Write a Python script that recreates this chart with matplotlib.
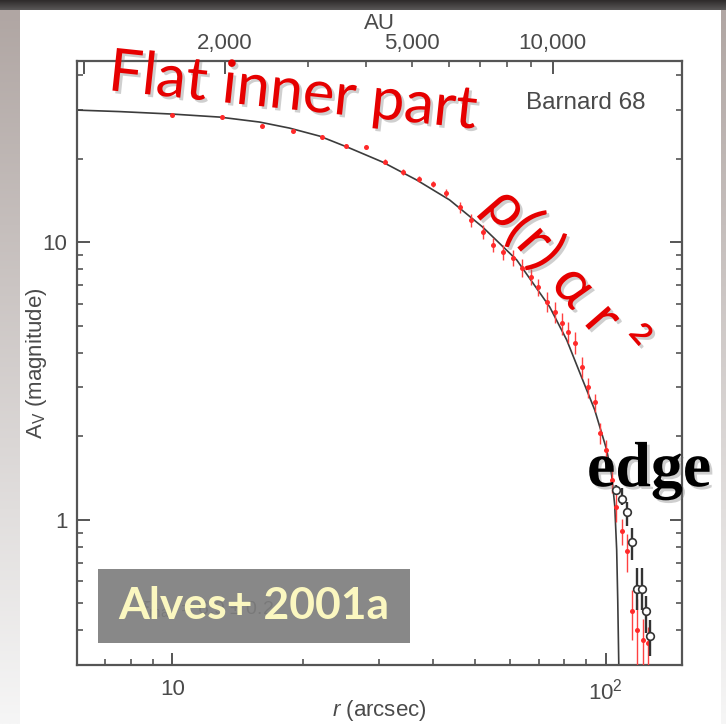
import numpy as np
from matplotlib import pyplot as plt
from matplotlib.ticker import FixedLocator, FixedFormatter, NullFormatter
import matplotlib.patheffects as pe
from matplotlib.patches import Rectangle

plt.rcParams["font.family"] = ["Liberation Sans", "DejaVu Sans"]
plt.rcParams["mathtext.fontset"] = "custom"
plt.rcParams["mathtext.rm"] = "Liberation Sans"
plt.rcParams["mathtext.it"] = "Liberation Sans:italic"
plt.rcParams["mathtext.bf"] = "Liberation Sans:bold"

# model profile (r in arcsec, A_V in mag)
model_r = [6.0, 7.54, 10.0, 12.84, 15.88, 18.63, 21.85, 25.63, 30.55, 36.61,
           43.62, 51.99, 62.31, 74.25, 81.27, 88.49, 94.32, 100.5, 103.2,
           104.9, 106.0, 106.6, 107.2, 107.3]
model_av = [29.95, 29.58, 28.97, 28.26, 27.12, 25.79, 24.14, 21.86, 19.46,
            16.77, 14.21, 11.35, 8.64, 5.85, 4.45, 3.19, 2.49, 1.79, 1.45,
            1.13, 0.78, 0.515, 0.30, 0.25]

# near-infrared extinction measurements (red)
red_r = [10.0, 13.0, 16.05, 19.0, 22.1, 25.1, 28.0, 30.9, 34.0, 37.0, 39.9,
         42.9, 46.0, 49.0, 52.0, 54.8, 57.8, 61.0, 64.0, 67.1, 69.7, 73.1,
         76.2, 79.1, 81.7, 84.8, 88.0, 90.9, 94.3, 96.8, 100.0, 103.2, 105.5,
         108.9, 111.8, 114.8, 117.9, 121.7, 125.5]
red_av = [28.7, 28.3, 26.2, 25.2, 23.9, 22.2, 22.0, 19.5, 17.9, 16.9, 16.2,
          15.1, 13.4, 12.0, 10.9, 9.8, 9.2, 8.8, 8.1, 7.5, 6.9, 6.1,
          5.6, 5.1, 4.75, 4.35, 3.55, 3.0, 2.65, 2.06, 1.79, 1.39, 1.11,
          0.91, 0.77, 0.47, 0.40, 0.37, 0.36]
red_err_lo = [0.4, 0.4, 0.4, 0.4, 0.4, 0.4, 0.4, 0.4, 0.4, 0.4, 0.4,
              0.5, 0.6, 0.6, 0.6, 0.6, 0.6, 0.6, 0.6, 0.5, 0.5, 0.5,
              0.5, 0.45, 0.4, 0.4, 0.3, 0.25, 0.2, 0.18, 0.15, 0.14, 0.13,
              0.1, 0.12, 0.1, 0.3, 0.3, 0.3]
red_err_hi = [0.4, 0.4, 0.4, 0.4, 0.4, 0.4, 0.4, 0.4, 0.4, 0.4, 0.4,
              0.5, 0.6, 0.6, 0.6, 0.6, 0.6, 0.6, 0.6, 0.5, 0.5, 0.5,
              0.5, 0.45, 0.4, 0.4, 0.3, 0.25, 0.2, 0.18, 0.15, 0.14, 0.13,
              0.1, 0.12, 0.09, 0.12, 0.07, 0.05]

# outer points (open circles)
open_r = [105.5, 108.9, 111.8, 114.8, 117.9, 121.0, 124.2, 126.6]
open_av = [1.28, 1.19, 1.07, 0.833, 0.564, 0.564, 0.47, 0.382]
open_err_lo = [0.05, 0.06, 0.12, 0.115, 0.09, 0.09, 0.08, 0.06]
open_err_hi = [0.05, 0.11, 0.09, 0.10, 0.106, 0.106, 0.06, 0.054]

x_major = [10, 100]
x_major_labels = ["10", r"$\mathdefault{10^{2}}$"]
x_minor = [7, 8, 9, 20, 30, 40, 50, 60, 70, 80, 90]
y_major = [1, 10]
y_major_labels = ["1", "10"]
y_minor = [0.4, 0.5, 0.6, 0.7, 0.8, 0.9, 2, 3, 4, 5, 6, 7, 8, 9, 20, 30, 40]
au_major = [1000, 2000, 10000]
au_major_labels = ["", "2,000", "10,000"]
au_minor = [3000, 4000, 5000, 6000, 7000, 8000, 9000]
au_minor_labels = ["", "", "5,000", "", "", "", ""]

grey = "#4a4a4a"
red = "#e60000"

fig = plt.figure(figsize=(7.26, 7.24), dpi=100)

# slide decoration: left/right gradient strips and dark top band
grad = np.linspace(0, 1, 256)[:, None]
strip_cols = np.stack([176 + 70 * grad, 166 + 80 * grad, 163 + 83 * grad], axis=-1) / 255
for rect in ([0, 0, 20 / 726, 714 / 724], [721 / 726, 0, 5 / 726, 714 / 724]):
    sax = fig.add_axes(rect)
    sax.imshow(strip_cols, aspect="auto")
    sax.axis("off")
band_cols = np.stack([45 + 45 * grad, 42 + 46 * grad, 42 + 46 * grad], axis=-1) / 255
bax = fig.add_axes([0, 714 / 724, 1, 10 / 724], zorder=10)
bax.imshow(band_cols, aspect="auto")
bax.axis("off")

ax = fig.add_axes([77 / 726, 59 / 724, 605 / 726, 604 / 724])
ax.set_xscale("log")
ax.set_yscale("log")
ax.set_xlim(6.02, 150)
ax.set_ylim(0.30, 45)

ax.plot(model_r, model_av, color="#3c3c3c", lw=1.2, zorder=2)
ax.errorbar(red_r, red_av, yerr=[red_err_lo, red_err_hi], fmt="o", ms=3.6,
            color="#ff2a2a", mec="none", ecolor="#ff4040", elinewidth=1.0,
            capsize=0, zorder=3)
ax.errorbar(open_r, open_av, yerr=[open_err_lo, open_err_hi], fmt="o", ms=5.5,
            mfc="white", mec="#333333", mew=1.2, ecolor="#333333",
            elinewidth=1.7, capsize=0, zorder=4)

for s in ax.spines.values():
    s.set_color("#555555")
    s.set_linewidth(1.6)

ax.xaxis.set_major_locator(FixedLocator(x_major))
ax.xaxis.set_major_formatter(FixedFormatter(x_major_labels))
ax.xaxis.set_minor_locator(FixedLocator(x_minor))
ax.xaxis.set_minor_formatter(NullFormatter())
ax.yaxis.set_major_locator(FixedLocator(y_major))
ax.yaxis.set_major_formatter(FixedFormatter(y_major_labels))
ax.yaxis.set_minor_locator(FixedLocator(y_minor))
ax.yaxis.set_minor_formatter(NullFormatter())
ax.tick_params(which="both", direction="in", colors="#555555", labelcolor=grey,
               labelsize=16, top=False, right=True)
ax.tick_params(which="major", length=9, width=1.4)
ax.tick_params(which="minor", length=4.5, width=1.2)
ax.tick_params(axis="x", which="both", pad=10)
ax.tick_params(axis="y", which="both", pad=7)

ax.set_xlabel(r"$r$ (arcsec)", fontsize=16, color=grey, labelpad=-5)
ax.set_ylabel(r"$\mathrm{A}_{\mathrm{V}}$ (magnitude)", fontsize=16, color=grey, labelpad=-5)

ax2 = ax.twiny()
ax2.set_xscale("log")
ax2.set_xlim(967, 18860)
ax2.xaxis.set_major_locator(FixedLocator(au_major))
ax2.xaxis.set_major_formatter(FixedFormatter(au_major_labels))
ax2.xaxis.set_minor_locator(FixedLocator(au_minor))
ax2.xaxis.set_minor_formatter(FixedFormatter(au_minor_labels))
ax2.tick_params(which="both", direction="in", colors="#555555", labelcolor=grey,
                labelsize=16, pad=5)
ax2.tick_params(which="major", length=9, width=1.4)
ax2.tick_params(which="minor", length=4.5, width=1.2)
ax2.set_xlabel("AU", fontsize=16, color=grey, labelpad=3)
for s in ax2.spines.values():
    s.set_visible(False)

ax.text(0.939, 0.930, "Barnard 68", transform=ax.transAxes, ha="right",
        va="center", fontsize=17.5, color=grey)

shadow = [pe.withSimplePatchShadow(offset=(2, -2), shadow_rgbFace="#777777", alpha=0.35)]
ax.text(0.0496, 0.952, "Flat inner part", transform=ax.transAxes, ha="left",
        va="baseline", rotation=-6, rotation_mode="anchor", fontsize=43,
        color=red, family=["Lato", "DejaVu Sans"], path_effects=shadow, zorder=6)
ax.text(0.808, 0.648, "ρ(r) α r ²", transform=ax.transAxes, ha="center",
        va="center", rotation=-49, rotation_mode="anchor", fontsize=43,
        color=red, family=["Lato", "DejaVu Sans"], path_effects=shadow, zorder=6)
ax.text(0.843, 0.296, "edge", transform=ax.transAxes, ha="left",
        va="baseline", fontsize=46, fontweight="bold", color="black",
        family=["Liberation Serif"], path_effects=shadow, zorder=6)

ax.text(0.104, 0.091, r"$\xi_{\mathrm{max}}$ = 6.9 ± 0.2", transform=ax.transAxes,
        ha="left", va="center", fontsize=14, color="#333333", zorder=5)
ax.add_patch(Rectangle((0.0347, 0.0364), 0.5157, 0.1225, transform=ax.transAxes,
                       facecolor="#7f7f7f", edgecolor="none", alpha=0.93, zorder=6))
ax.text(0.293, 0.0977, "Alves+ 2001a", transform=ax.transAxes, ha="center",
        va="center", fontsize=32, fontweight="bold", color="#fbf7c0",
        family=["Lato", "DejaVu Sans"], zorder=7)

fig.savefig("out.png", dpi=100)
